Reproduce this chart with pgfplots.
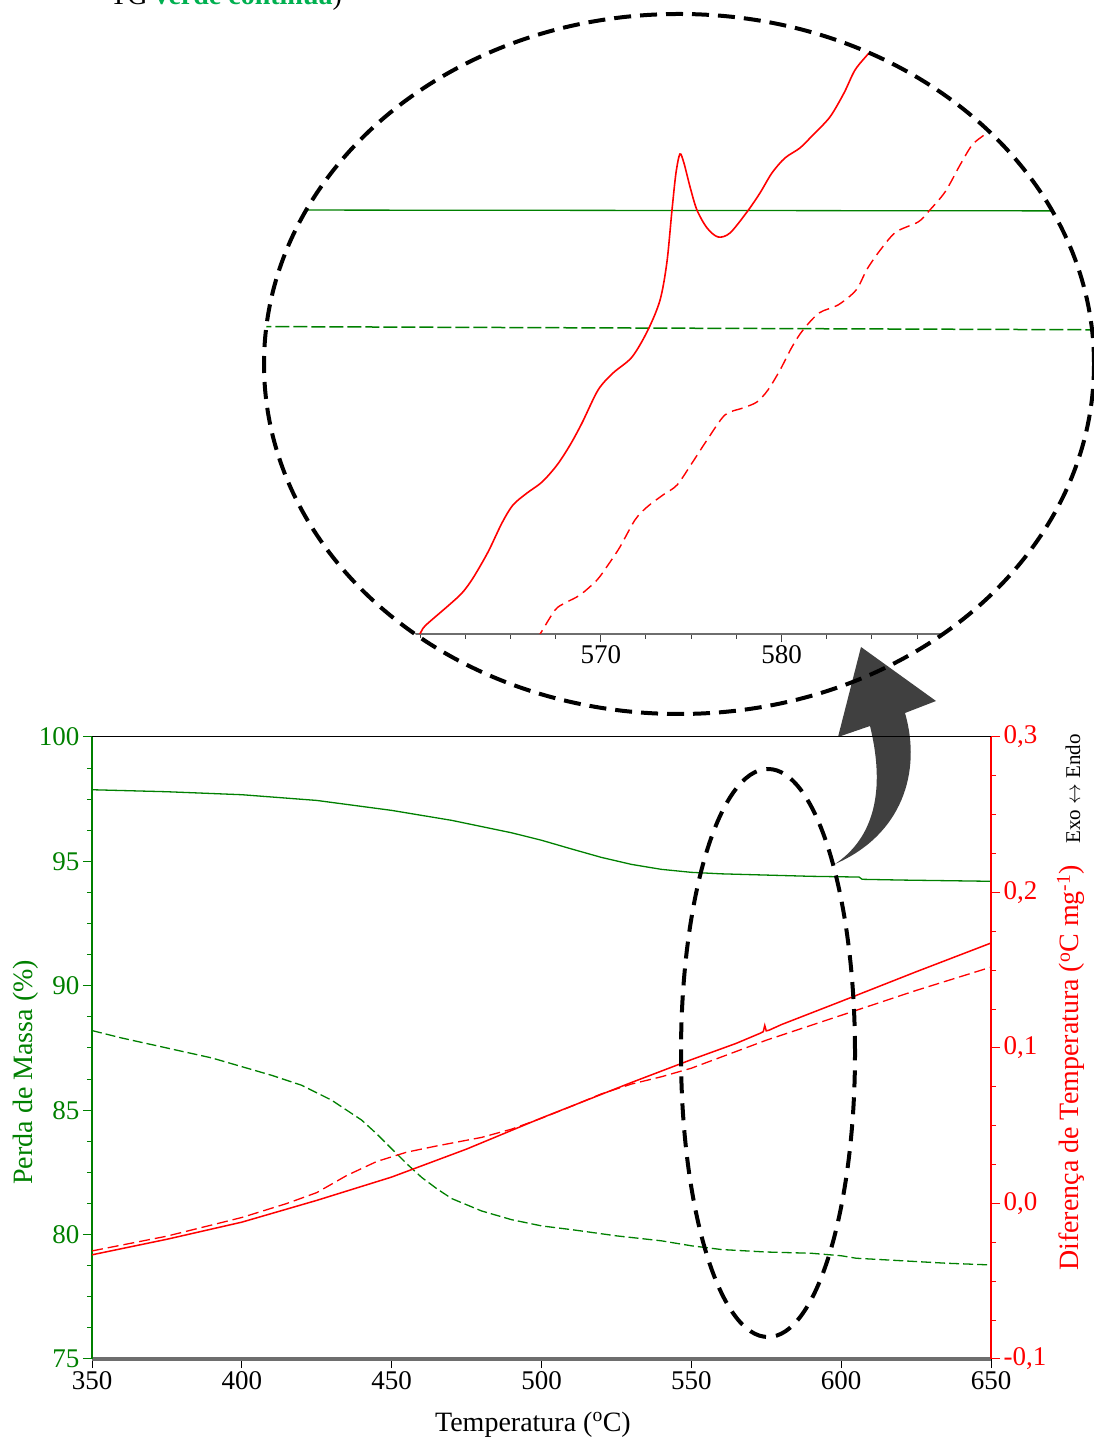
\documentclass[border=0pt]{standalone}
\usepackage{pgfplots}
\pgfplotsset{compat=1.18}
\usepackage{fontspec}
\setmainfont{Liberation Serif}
\definecolor{tgreen}{RGB}{0,128,0}
\definecolor{tred}{RGB}{255,0,0}
\definecolor{bgreen}{RGB}{0,176,80}
\definecolor{axgray}{RGB}{110,110,110}
\definecolor{arrowgray}{RGB}{64,64,64}
\begin{document}
\begin{tikzpicture}[x=1pt,y=1pt]
% curved arrow (annotation)
\fill[arrowgray] (835,576) .. controls (868,598) and (888,640) .. (870,714) -- (838,703) -- (861,793) -- (936,739) -- (905,727) .. controls (922,668) and (902,605) .. (835,576) -- cycle;

% ---------- main chart, left axis (mass loss) ----------
\begin{axis}[
  at={(92pt,81pt)}, anchor=south west, width=899pt, height=622pt, scale only axis,
  xmin=350, xmax=650, ymin=75, ymax=100,
  axis x line*=bottom, axis y line*=left,
  x axis line style={axgray, line width=3.2pt},
  y axis line style={tgreen, line width=1.5pt},
  tick align=outside,
  xtick={350,400,...,650},
  ytick={75,80,...,100},
  minor y tick num=3,
  major tick length=9pt, minor tick length=5pt,
  xtick style={black, line width=1pt},
  ytick style={tgreen, line width=1pt},
  yticklabel style={tgreen},
  tick label style={font=\fontsize{27}{30}\selectfont},
  /pgf/number format/assume math mode=true,
  xlabel={Temperatura (\textsuperscript{o}C)},
  ylabel={Perda de Massa (\%)},
  every axis x label/.style={at={(axis description cs:0.4905,-0.1158)}, anchor=base, font=\fontsize{28}{30}\selectfont},
  every axis y label/.style={at={(axis description cs:-0.0734,0.461)}, rotate=90, anchor=center, text=tgreen, font=\fontsize{28}{30}\selectfont},
]
\addplot[tgreen, line width=1.3pt] coordinates {
(350,97.88) (375,97.80) (400,97.68) (425,97.45) (450,97.05) (470,96.65) (490,96.15)
(500,95.85) (510,95.50) (520,95.16) (530,94.88) (540,94.68) (550,94.56) (560,94.50)
(575,94.45) (590,94.40) (606,94.37) (607,94.28) (620,94.25) (650,94.20)};
\addplot[tgreen, line width=1.3pt, dash pattern=on 10pt off 4pt] coordinates {
(350,88.2) (360,87.9) (375,87.5) (390,87.1) (400,86.75) (410,86.4) (420,86.0) (430,85.4)
(440,84.6) (445,84.05) (450,83.45) (455,82.85) (460,82.3) (465,81.85) (470,81.45) (480,80.95)
(490,80.6) (500,80.35) (510,80.2) (525,79.95) (540,79.75) (550,79.55) (560,79.4) (575,79.3)
(590,79.25) (600,79.15) (605,79.05) (620,78.95) (635,78.85) (650,78.78)};
\draw[black, line width=1pt] (rel axis cs:0,1) -- (rel axis cs:1,1);
\end{axis}

% ---------- main chart, right axis (DTA) ----------
\begin{axis}[
  at={(92pt,81pt)}, anchor=south west, width=899pt, height=622pt, scale only axis,
  xmin=350, xmax=650, ymin=-0.1, ymax=0.3,
  axis x line=none, axis y line*=right,
  y axis line style={tred, line width=1.5pt},
  tick align=outside,
  ytick={-0.1,0,0.1,0.2,0.3},
  minor y tick num=3,
  major tick length=9pt, minor tick length=5pt,
  ytick style={tred, line width=1pt},
  yticklabel style={tred, /pgf/number format/.cd, use comma, fixed, fixed zerofill, precision=1, assume math mode=true},
  tick label style={font=\fontsize{27}{30}\selectfont},
  ylabel={Diferença de Temperatura (\textsuperscript{o}C mg\textsuperscript{-1})},
  every axis y label/.style={at={(axis description cs:1.089,0.468)}, rotate=90, anchor=center, text=tred, font=\fontsize{28}{30}\selectfont},
]
\addplot[tred, line width=1.5pt] coordinates {
(350,-0.033) (375,-0.023) (400,-0.012) (425,0.002) (450,0.017) (475,0.035) (490,0.047) (500,0.055)
(510,0.0626) (520,0.0702) (530,0.0778) (550,0.0925) (565,0.103) (573,0.1095) (574,0.1105)
(574.5,0.1145) (575,0.111) (576,0.1115) (580,0.115) (600,0.130) (625,0.149) (650,0.1675)};
\addplot[tred, line width=1.3pt, dash pattern=on 11pt off 5pt] coordinates {
(350,-0.0305) (375,-0.021) (400,-0.009) (415,0.0) (425,0.007) (435,0.018) (445,0.027)
(455,0.033) (465,0.037) (480,0.0425) (490,0.0478) (500,0.0548) (510,0.0625) (520,0.0705)
(530,0.0768) (540,0.0815) (550,0.087) (575,0.105) (600,0.121) (625,0.137) (650,0.152)};
\end{axis}

\node[rotate=90, anchor=center, inner sep=0, font=\fontsize{21}{24}\selectfont] at (1073,651) {Exo \ensuremath{\leftrightarrow} Endo};

% ---------- magnified inset ----------
\begin{scope}
\clip (679,1076) ellipse [x radius=415, y radius=350];
\begin{axis}[
  at={(239.4pt,806pt)}, anchor=south west, width=903.5pt, height=620pt, scale only axis,
  xmin=550, xmax=600, ymin=0, ymax=620,
  axis x line*=bottom, axis y line=none,
  x axis line style={axgray, line width=2pt},
  xtick={570,580}, minor xtick={552.5,555,...,597.5},
  tick align=outside,
  major tick length=8pt, minor tick length=5pt,
  xtick style={axgray!60!black, line width=1pt},
  tick label style={font=\fontsize{27}{30}\selectfont},
  /pgf/number format/assume math mode=true,
]
\addplot[tgreen, line width=1.3pt] coordinates {(550,424) (600,423)};
\addplot[tgreen, line width=1.5pt, dash pattern=on 14pt off 4pt] coordinates {(550,307.5) (600,304)};
\addplot[tred, line width=1.6pt, smooth] coordinates {
(559.5,-8) (559.99,0) (560.27,8) (561.54,28) (562.32,41) (562.93,56) (563.76,82) (564.53,111)
(565.14,129) (565.92,141) (566.75,152) (567.58,169) (568.30,189) (568.96,211) (569.85,244)
(570.68,261) (571.73,277) (572.61,304) (573.28,334) (573.66,372) (573.94,424) (574.16,461)
(574.38,480) (574.60,471) (574.94,447) (575.32,424) (575.88,406) (576.49,397) (577.15,401)
(578.09,422) (578.81,441) (579.47,461) (580.19,476) (581.02,486) (581.74,499) (582.68,517)
(583.46,541) (584.07,564) (584.84,581) (585.45,594)};
\addplot[tred, line width=1.4pt, smooth, dash pattern=on 11pt off 6pt] coordinates {
(566.4,-5) (566.64,0) (567.47,24) (568.02,31) (568.85,39) (569.79,54) (570.40,69) (571.06,87)
(571.89,114) (572.56,127) (573.44,139) (574.22,149) (575.05,171) (575.88,194) (576.87,219)
(577.87,226) (578.64,232) (579.25,244) (579.92,264) (580.58,287) (581.19,304) (582.08,321)
(583.13,329) (584.13,344) (584.74,365) (585.51,385) (586.34,402) (587.56,412) (588.11,422)
(589.05,442) (589.88,469) (590.55,489) (591.21,499) (591.65,506) (592.09,510)};
\end{axis}
\end{scope}

\draw[black, line width=4pt, dash pattern=on 17pt off 9pt] (679,1076) ellipse [x radius=415, y radius=350];
\draw[black, line width=4pt, dash pattern=on 17pt off 10pt] (768,387) ellipse [x radius=87, y radius=284];

\node[anchor=base west, inner sep=0, font=\fontsize{28}{30}\selectfont] at (110,1435.5) {TG \textcolor{bgreen}{\textbf{verde contínua}})};

\pgfresetboundingbox
\useasboundingbox (0,0) rectangle (1094,1440);
\end{tikzpicture}
\end{document}
